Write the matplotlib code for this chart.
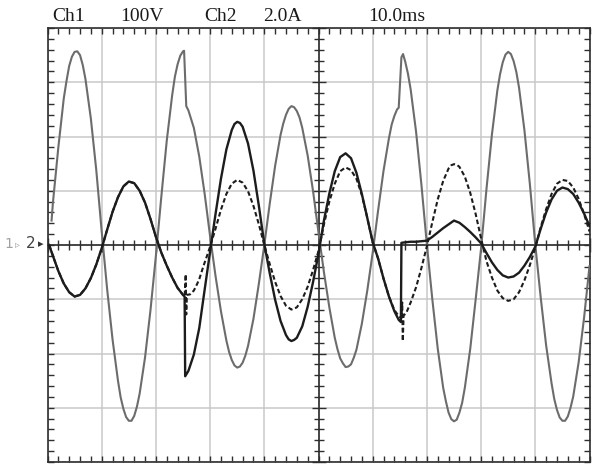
import matplotlib
matplotlib.use("Agg")
import matplotlib.pyplot as plt
from matplotlib.ticker import MultipleLocator

# Ch1: line voltage, in divisions (100 V/div), time in ms
ch1_t = [0.75, 1, 2, 3, 3.5, 4, 4.5, 5, 5.5, 6, 6.5, 7, 8, 9, 10,
         11, 12, 13, 13.5, 14, 14.5, 15, 15.5, 16, 16.5, 17, 18, 19, 20,
         21, 22, 23, 23.5, 24, 24.5, 25, 25.2, 25.6, 26, 27, 28, 29, 30,
         31, 32, 33, 33.5, 34, 34.5, 35, 35.5, 36, 36.5, 37, 38, 39, 40,
         41, 42, 43, 43.5, 44, 44.5, 45, 45.5, 46, 46.5, 47, 48, 49, 50,
         51, 52, 53, 53.5, 54, 54.5, 55, 55.5, 56, 56.5, 57, 58, 59, 60,
         61, 62, 63, 63.5, 64, 64.5, 64.8, 65.3, 65.6, 66, 66.5, 67, 68, 69, 70,
         71, 72, 73, 73.5, 74, 74.5, 75, 75.5, 76, 76.5, 77, 78, 79, 80,
         81, 82, 83, 83.5, 84, 84.5, 85, 85.5, 86, 86.5, 87, 88, 89, 90,
         91, 92, 93, 93.5, 94, 94.5, 95, 95.5, 96, 96.5, 97, 98, 99, 100]
ch1_v = [0.45, 0.78, 1.80, 2.70, 3.02, 3.30, 3.47, 3.56, 3.57, 3.50, 3.32, 3.06, 2.33, 1.38, 0.25,
         -0.81, -1.74, -2.50, -2.81, -3.02, -3.17, -3.24, -3.24, -3.15, -2.98, -2.74, -2.07, -1.20, -0.20,
         0.89, 1.92, 2.76, 3.10, 3.33, 3.49, 3.57, 3.58, 2.56, 2.48, 2.16, 1.63, 0.94, 0.16,
         -0.57, -1.22, -1.76, -1.97, -2.12, -2.22, -2.26, -2.24, -2.17, -2.04, -1.86, -1.36, -0.71, 0.00,
         0.76, 1.46, 2.03, 2.24, 2.40, 2.51, 2.56, 2.54, 2.47, 2.35, 2.16, 1.65, 0.99, 0.23,
         -0.50, -1.15, -1.71, -1.92, -2.09, -2.18, -2.25, -2.24, -2.20, -2.08, -1.93, -1.45, -0.84, -0.14,
         0.64, 1.37, 1.97, 2.22, 2.38, 2.50, 2.53, 3.46, 3.52, 3.38, 3.16, 2.87, 2.09, 1.10, 0.00,
         -1.00, -1.91, -2.63, -2.88, -3.09, -3.21, -3.25, -3.22, -3.09, -2.91, -2.63, -1.91, -1.00, -0.06,
         1.04, 2.04, 2.85, 3.15, 3.37, 3.51, 3.56, 3.52, 3.39, 3.19, 2.90, 2.11, 1.12, 0.00,
         -0.97, -1.85, -2.55, -2.84, -3.04, -3.18, -3.24, -3.24, -3.16, -3.00, -2.79, -2.16, -1.34, -0.39]

# Ch2: load current, in divisions (2.0 A/div)
ch2_t = [0.3, 1, 2, 3, 4, 5, 6, 7, 8, 9, 10,
         11, 12, 13, 14, 15, 16, 17, 18, 19, 20,
         21, 22, 23, 24, 25, 25.3, 25.4, 26, 27, 28, 29, 30,
         31, 32, 33, 34, 34.5, 35, 35.5, 36, 37, 38, 39, 40,
         41, 42, 43, 44, 44.5, 45, 45.5, 46, 47, 48, 49, 50,
         51, 52, 53, 54, 55, 56, 57, 58, 59, 60,
         61, 62, 63, 64, 64.8, 65.2, 65.3, 66, 67, 68, 69, 70,
         71, 72, 73, 74, 75, 76, 77, 78, 79, 80,
         81, 82, 83, 84, 85, 86, 87, 88, 89, 90,
         91, 92, 93, 94, 95, 96, 97, 98, 99, 100]
ch2_i = [0.00, -0.20, -0.48, -0.71, -0.87, -0.95, -0.92, -0.80, -0.61, -0.36, -0.06,
         0.28, 0.61, 0.88, 1.08, 1.17, 1.14, 1.00, 0.78, 0.48, 0.15,
         -0.14, -0.38, -0.60, -0.79, -0.92, -0.95, -2.42, -2.32, -2.02, -1.53, -0.82, -0.12,
         0.57, 1.22, 1.76, 2.12, 2.23, 2.27, 2.25, 2.18, 1.87, 1.37, 0.72, 0.02,
         -0.52, -1.01, -1.40, -1.66, -1.74, -1.77, -1.75, -1.71, -1.50, -1.14, -0.68, -0.16,
         0.45, 0.95, 1.36, 1.62, 1.69, 1.60, 1.33, 0.94, 0.50, 0.05,
         -0.25, -0.62, -0.95, -1.22, -1.38, -1.42, 0.04, 0.05, 0.06, 0.06, 0.07, 0.08,
         0.15, 0.23, 0.31, 0.38, 0.45, 0.41, 0.33, 0.24, 0.14, 0.03,
         -0.15, -0.32, -0.46, -0.56, -0.60, -0.58, -0.51, -0.38, -0.22, -0.03,
         0.30, 0.60, 0.84, 1.00, 1.06, 1.03, 0.94, 0.78, 0.58, 0.35]

# Reference current (dashed), in divisions (2.0 A/div)
ref_t = [0.3, 1, 2, 3, 4, 5, 6, 7, 8, 9, 10,
         11, 12, 13, 14, 15, 16, 17, 18, 19, 20,
         21, 22, 23, 24, 25, 25.3, 25.5, 25.6, 25.7, 26.3, 27, 27.55, 28, 28.8, 29.5, 30,
         31, 32, 33, 34, 35, 36, 37, 38, 39, 40,
         41, 42, 43, 44, 45, 46, 47, 48, 49, 50,
         51, 52, 53, 54, 55, 56, 57, 58, 59, 60,
         61, 62, 63, 64, 64.8, 65.3, 65.45, 65.55, 65.7, 66.2, 67, 68, 69, 70,
         71, 72, 73, 74, 74.5, 75, 75.5, 76, 77, 78, 79, 80,
         81, 82, 83, 84, 85, 86, 87, 88, 89, 90,
         91, 92, 93, 94, 95, 96, 97, 98, 99, 100]
ref_i = [0.00, -0.20, -0.48, -0.71, -0.87, -0.95, -0.92, -0.80, -0.61, -0.36, -0.06,
         0.28, 0.61, 0.88, 1.08, 1.17, 1.14, 1.00, 0.78, 0.48, 0.15,
         -0.14, -0.38, -0.60, -0.79, -0.92, -0.95, -0.54, -1.28, -0.92, -0.91, -0.84, -0.73, -0.63, -0.38, -0.18, -0.03,
         0.30, 0.65, 0.94, 1.13, 1.20, 1.15, 0.99, 0.72, 0.38, 0.00,
         -0.35, -0.68, -0.94, -1.12, -1.19, -1.15, -1.00, -0.77, -0.46, -0.11,
         0.38, 0.80, 1.13, 1.36, 1.43, 1.38, 1.22, 0.92, 0.50, 0.05,
         -0.25, -0.62, -0.95, -1.20, -1.31, -1.35, -1.06, -1.77, -1.30, -1.25, -1.06, -0.78, -0.42, -0.02,
         0.42, 0.84, 1.18, 1.41, 1.47, 1.49, 1.48, 1.44, 1.26, 0.96, 0.57, 0.12,
         -0.30, -0.60, -0.84, -0.98, -1.03, -1.00, -0.87, -0.65, -0.37, -0.05,
         0.33, 0.66, 0.94, 1.13, 1.20, 1.18, 1.06, 0.85, 0.57, 0.25]

header = [("Ch1", 52), ("100V", 120), ("Ch2", 204), ("2.0A", 263), ("10.0ms", 368)]

W, H = 592, 470
fig = plt.figure(figsize=(W / 100, H / 100), dpi=100)
fig.patch.set_facecolor("white")

x0, x1, y0, y1 = 47.5, 589.5, 28.0, 462.0
pos = [x0 / W, 1 - y1 / H, (x1 - x0) / W, (y1 - y0) / H]

frame_col = "#2e2e2e"
grid_col = "#c9c9c9"


def set_graticule(a):
    a.set_xlim(0, 100)
    a.set_ylim(-4, 4)
    a.xaxis.set_major_locator(MultipleLocator(10))
    a.yaxis.set_major_locator(MultipleLocator(1))
    a.xaxis.set_minor_locator(MultipleLocator(2))
    a.yaxis.set_minor_locator(MultipleLocator(0.2))


# Outer graticule: border with inward ticks and the division grid
ax = fig.add_axes(pos)
set_graticule(ax)
ax.grid(True, which="major", color=grid_col, lw=1.1)
ax.tick_params(which="both", direction="in", top=True, right=True,
               labelbottom=False, labelleft=False, color=frame_col, width=1.0)
ax.tick_params(which="major", length=4)
ax.tick_params(which="minor", length=4)
for sp in ax.spines.values():
    sp.set_color(frame_col)
    sp.set_linewidth(1.2)

# Centre cross with ticks on both sides, and the traces on top
ax2 = fig.add_axes(pos)
set_graticule(ax2)
ax2.patch.set_visible(False)
ax2.spines["left"].set_position(("data", 50))
ax2.spines["bottom"].set_position(("data", 0))
ax2.spines["top"].set_visible(False)
ax2.spines["right"].set_visible(False)
for name in ("left", "bottom"):
    ax2.spines[name].set_color(frame_col)
    ax2.spines[name].set_linewidth(1.2)
ax2.tick_params(which="both", direction="inout", bottom=True, left=True,
                top=False, right=False, labelbottom=False, labelleft=False,
                color=frame_col, width=1.0)
ax2.tick_params(which="major", length=10)
ax2.tick_params(which="minor", length=7)

ax2.plot(ch1_t, ch1_v, color="#6c6c6c", lw=1.5, zorder=3, solid_joinstyle="round")
ax2.plot(ref_t, ref_i, color="#1c1c1c", lw=1.5, ls=(0, (2.2, 1.3)), zorder=4)
ax2.plot(ch2_t, ch2_i, color="#1c1c1c", lw=1.7, zorder=5, solid_joinstyle="round")

# Header readout
for txt, px in header:
    fig.text(px / W, 1 - 21 / H, txt, family="Liberation Serif", fontsize=14,
             color="#1a1a1a", va="baseline", ha="left")

# Ground reference marker on the left edge
ymid = 1 - 244 / H
fig.text(4 / W, ymid, "1", family="DejaVu Sans", fontsize=10, color="#a0a0a0",
         va="center", ha="left")
fig.text(15 / W, ymid, "\u25b9", family="DejaVu Sans", fontsize=7, color="#a0a0a0",
         va="center", ha="left")
fig.text(26 / W, ymid, "2", family="DejaVu Sans", fontsize=11, color="#444444",
         va="center", ha="left")
fig.text(38 / W, ymid, "\u25b8", family="DejaVu Sans", fontsize=8, color="#333333",
         va="center", ha="left")

fig.savefig("out.png", dpi=100, facecolor="white")
